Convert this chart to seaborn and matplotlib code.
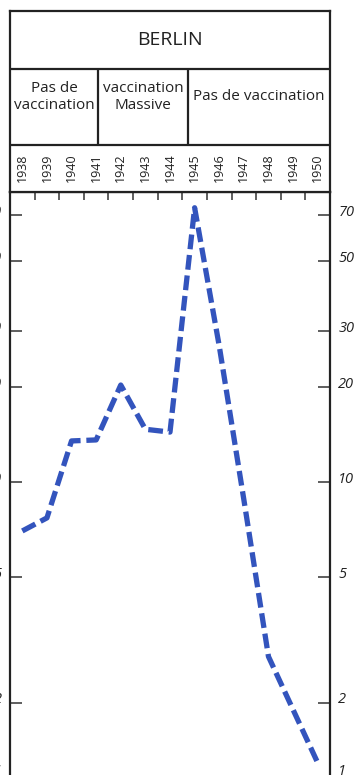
import matplotlib
matplotlib.use("Agg")
import matplotlib.pyplot as plt
import matplotlib.transforms as mtransforms
from matplotlib.ticker import NullLocator, FixedLocator
import numpy as np
import pandas as pd
import seaborn as sns

# ---------------- data ----------------
years = [1938, 1939, 1940, 1941, 1942, 1943, 1944, 1945, 1946, 1947, 1948, 1949, 1950]
cases = [7.0, 7.7, 13.5, 13.6, 20.3, 14.7, 14.4, 74.0, 27.0, 8.8, 2.8, 1.9, 1.29]
ytick_values = [1, 2, 5, 10, 20, 30, 50, 70]
ytick_labels = ["1", "2", "5", "10", "20", "30", "50", "70"]
title_text = "BERLIN"
period_labels = ["Pas de\nvaccination", "vaccination\nMassive", "Pas de vaccination"]
period_bounds = [1937.5, 1941.08, 1944.73, 1950.5]

sns.set_theme(style="white")
plt.rcParams["font.family"] = ["Open Sans", "DejaVu Sans"]

W, H = 358, 775
fig = plt.figure(figsize=(W / 100, H / 100), dpi=100)
fig.patch.set_facecolor("white")


def box(l, t, r, b):
    return [l / W, 1 - b / H, (r - l) / W, (b - t) / H]


frame_col = "#222222"
frame_lw = 1.6

# ---------------- main plot ----------------
ax = fig.add_axes(box(10, 192, 330, 805))
df = pd.DataFrame({"year": years, "cases": cases})
sns.lineplot(data=df, x="year", y="cases", ax=ax, color="#3354bd",
             linewidth=3.8, linestyle=(0, (2.8, 1.1)), legend=False)
ax.set_yscale("log")
ax.set_xlim(1937.5, 1950.5)
ax.set_ylim(0.948, 83.0)
ax.yaxis.set_major_locator(FixedLocator(ytick_values))
ax.yaxis.set_minor_locator(NullLocator())
ax.set_yticklabels(ytick_labels)
ax.set_xticks(np.arange(years[0] + 0.5, years[-1], 1.0))
ax.xaxis.set_minor_locator(NullLocator())
ax.set_xlabel("")
ax.set_ylabel("")
ax.tick_params(axis="x", top=True, bottom=False, labeltop=False, labelbottom=False,
               direction="in", length=6, width=1.1, color="#333333")
ax.tick_params(axis="y", left=True, right=True, labelleft=True, labelright=True,
               direction="in", length=8.5, width=1.1, color="#333333",
               labelsize=10.5, labelcolor="#222222", pad=6)
for s in ["top", "left", "right"]:
    ax.spines[s].set_visible(True)
    ax.spines[s].set_color(frame_col)
    ax.spines[s].set_linewidth(frame_lw)
ax.spines["bottom"].set_visible(False)
ax.set_facecolor("white")

for tick, val in zip(ax.yaxis.get_major_ticks(), ytick_values):
    dy = 28 if val == 1 else 5
    off = mtransforms.ScaledTranslation(0, dy / 100, fig.dpi_scale_trans)
    for lab in (tick.label1, tick.label2):
        lab.set_fontstyle("italic")
        lab.set_transform(lab.get_transform() + off)

# ---------------- header ----------------
hax = fig.add_axes(box(10, 11, 330, 192))
hax.set_xlim(1937.5, 1950.5)
hax.set_ylim(192, 11)
hax.set_xticks([])
hax.set_yticks([])
for s in hax.spines.values():
    s.set_visible(True)
    s.set_color(frame_col)
    s.set_linewidth(frame_lw)
hax.axhline(69, color=frame_col, lw=frame_lw)
hax.axhline(145, color=frame_col, lw=frame_lw)
hax.vlines(period_bounds[1:3], 69, 145, color=frame_col, lw=frame_lw)

hax.text(sum(hax.get_xlim()) / 2, 40, title_text, ha="center", va="center",
         fontsize=14, color="#222222")
for i, lab in enumerate(period_labels):
    xc = (period_bounds[i] + period_bounds[i + 1]) / 2
    hax.text(xc, 97, lab, ha="center", va="center", fontsize=11,
             color="#222222", linespacing=1.15)
for y in years:
    hax.text(y, 168, str(y), ha="center", va="center", rotation=90,
             fontsize=9, color="#222222")

fig.savefig("out.png", dpi=100, facecolor="white")
